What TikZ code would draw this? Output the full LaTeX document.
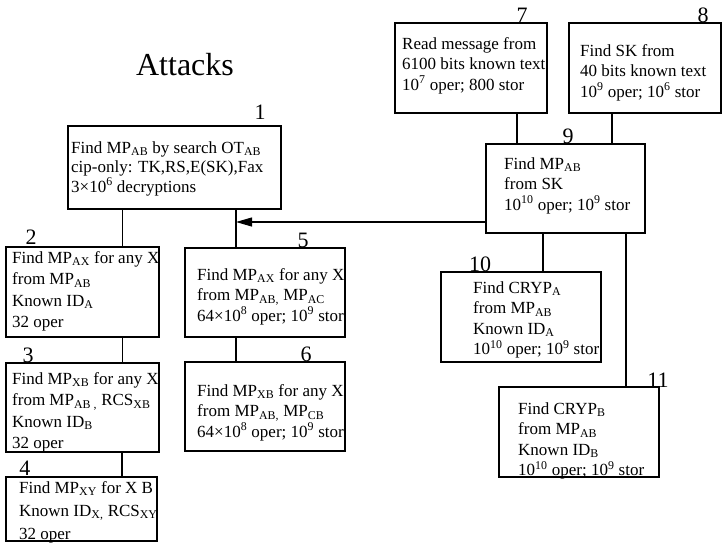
\documentclass[tikz,border=0pt]{standalone}
\usepackage{fontspec}
\setmainfont{Liberation Serif}
\usetikzlibrary{arrows.meta}

\begin{document}
\begin{tikzpicture}[x=1pt,y=-1pt,
  box/.style={draw,line width=1.5pt,anchor=north west,inner sep=0pt,outer sep=0pt},
  txt/.style={anchor=north west,align=left,inner sep=0pt,font=\fontsize{17}{20.5}\selectfont},
  num/.style={anchor=base,inner sep=0pt,font=\fontsize{22}{24}\selectfont},
  wire/.style={line width=1.1pt}]
\useasboundingbox (0,0) rectangle (722,542);

\node[anchor=base,font=\fontsize{32}{36}\selectfont] (title) at (185,75) {Attacks};

% boxes
\node[box,minimum width=213pt,minimum height=83pt] (n1) at (68,126) {};
\node[box,minimum width=153pt,minimum height=90pt] (n2) at (6,247) {};
\node[box,minimum width=153pt,minimum height=89pt] (n3) at (6,363) {};
\node[box,minimum width=151pt,minimum height=64pt] (n4) at (6,477) {};
\node[box,minimum width=160pt,minimum height=89pt] (n5) at (185,248) {};
\node[box,minimum width=160pt,minimum height=89pt] (n6) at (185,362) {};
\node[box,minimum width=152pt,minimum height=90pt] (n7) at (395,23) {};
\node[box,minimum width=152pt,minimum height=90pt] (n8) at (569,23) {};
\node[box,minimum width=159pt,minimum height=89pt] (n9) at (486,144) {};
\node[box,minimum width=160pt,minimum height=90pt] (n10) at (441,272) {};
\node[box,minimum width=160pt,minimum height=90pt] (n11) at (499,387) {};

% texts
\node[txt,font=\fontsize{17}{19.5}\selectfont] (t1) at (71,141)
  {Find MP\textsubscript{AB} by search OT\textsubscript{AB}\\cip-only: TK,RS,E(SK),Fax\\3×10\textsuperscript{6} decryptions};
\node[txt,font=\fontsize{17}{21.5}\selectfont] (t2) at (12,251)
  {Find MP\textsubscript{AX} for any X\\from MP\textsubscript{AB}\\Known ID\textsubscript{A}\\32 oper};
\node[txt,font=\fontsize{17}{21.5}\selectfont] (t3) at (12,372)
  {Find MP\textsubscript{XB} for any X\\from MP\textsubscript{AB ,} RCS\textsubscript{XB}\\Known ID\textsubscript{B}\\32 oper};
\node[txt,font=\fontsize{17}{23}\selectfont] (t4) at (19,481)
  {Find MP\textsubscript{XY} for X B\\Known ID\textsubscript{X,} RCS\textsubscript{XY}\\32 oper};
\node[txt] (t5) at (197,268)
  {Find MP\textsubscript{AX} for any X\\from MP\textsubscript{AB,} MP\textsubscript{AC}\\64×10\textsuperscript{8} oper; 10\textsuperscript{9} stor};
\node[txt] (t6) at (197,384)
  {Find MP\textsubscript{XB} for any X\\from MP\textsubscript{AB,} MP\textsubscript{CB}\\64×10\textsuperscript{8} oper; 10\textsuperscript{9} stor};
\node[txt] (t7) at (402,37)
  {Read message from\\6100 bits known text\\10\textsuperscript{7} oper; 800 stor};
\node[txt] (t8) at (580,44)
  {Find SK from\\40 bits known text\\10\textsuperscript{9} oper; 10\textsuperscript{6} stor};
\node[txt] (t9) at (504,157)
  {Find MP\textsubscript{AB}\\from SK\\10\textsuperscript{10} oper; 10\textsuperscript{9} stor};
\node[txt] (t10) at (473,281)
  {Find CRYP\textsubscript{A}\\from MP\textsubscript{AB}\\Known ID\textsubscript{A}\\10\textsuperscript{10} oper; 10\textsuperscript{9} stor};
\node[txt] (t11) at (518,402)
  {Find CRYP\textsubscript{B}\\from MP\textsubscript{AB}\\Known ID\textsubscript{B}\\10\textsuperscript{10} oper; 10\textsuperscript{9} stor};

% numbers
\node[num] (l1) at (260,119) {1};
\node[num] (l2) at (31,244) {2};
\node[num] (l3) at (28,362) {3};
\node[num] (l4) at (25,475) {4};
\node[num] (l5) at (303,247) {5};
\node[num] (l6) at (306,361) {6};
\node[num] (l7) at (522,22) {7};
\node[num] (l8) at (703,22) {8};
\node[num] (l9) at (568,143) {9};
\node[num] (l10) at (480,271) {10};
\node[num] (l11) at (658,387) {11};

% links
\draw[wire] ([xshift=40pt]n2.north) -- ([xshift=40pt]n2.north |- n1.south);
\draw[wire] ([xshift=40pt]n3.north) -- ([xshift=40pt]n3.north |- n2.south);
\draw[wire] ([xshift=40.5pt]n4.north) -- ([xshift=40.5pt]n4.north |- n3.south);
\draw[wire] ([xshift=-29pt]n5.north) coordinate (j) -- (j |- n1.south);
\draw[wire] ([xshift=-29pt]n6.north) -- ([xshift=-29pt]n6.north |- n5.south);
\draw[wire,-{Triangle[length=16pt,width=9pt]}] ([yshift=-33.5pt]n9.west) -- ([yshift=-33.5pt]n9.west -| j);
\draw[wire] ([xshift=-48.5pt]n9.north) -- ([xshift=-48.5pt]n9.north |- n7.south);
\draw[wire] ([xshift=46.5pt]n9.north) -- ([xshift=46.5pt]n9.north |- n8.south);
\draw[wire] ([xshift=22pt]n10.north) -- ([xshift=22pt]n10.north |- n9.south);
\draw[wire] ([xshift=47pt]n11.north) -- ([xshift=47pt]n11.north |- n9.south);

\end{tikzpicture}
\end{document}
